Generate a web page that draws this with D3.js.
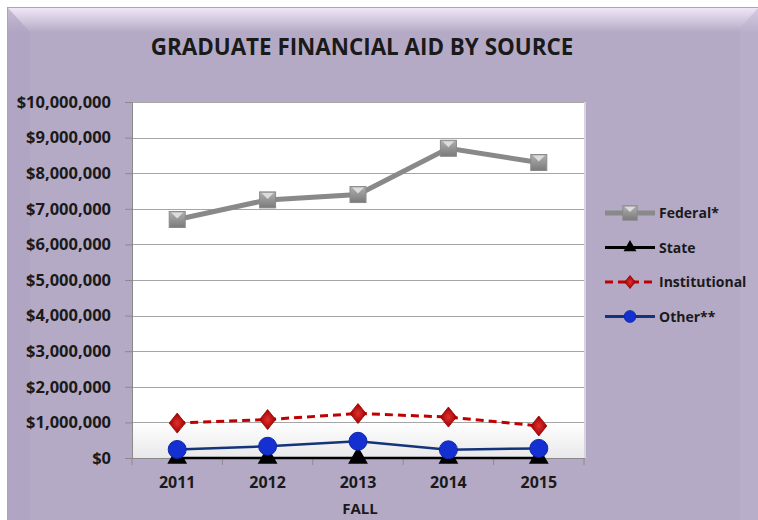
<!DOCTYPE html>
<html>
<head>
<meta charset="utf-8">
<script src="https://cdn.jsdelivr.net/npm/d3@7"></script>
<style>
  body { margin: 0; background: #fff; }
  svg text { font-family: "Open Sans", "Liberation Sans", sans-serif; font-weight: bold; fill: #1a1a1a; }
</style>
</head>
<body>
<div class="chart-container"></div>
<script>
// values
var years = ["2011", "2012", "2013", "2014", "2015"];
var federal = [6700000, 7250000, 7400000, 8700000, 8300000];
var state = [0, 0, 0, 0, 0];
var institutional = [980000, 1080000, 1250000, 1150000, 900000];
var other = [240000, 330000, 470000, 230000, 270000];
var yTicks = [0, 1000000, 2000000, 3000000, 4000000, 5000000, 6000000, 7000000, 8000000, 9000000, 10000000];
var seriesNames = ["Federal*", "State", "Institutional", "Other**"];

var W = 758, H = 520;
var margin = {top: 102, right: 174, bottom: 62, left: 132},
    width = W - margin.left - margin.right,
    height = H - margin.top - margin.bottom;

var svg = d3.select(".chart-container").append("svg")
    .attr("width", W).attr("height", H);

var defs = svg.append("defs");
var bev = defs.append("linearGradient").attr("id", "bevTop").attr("x1", 0).attr("y1", 0).attr("x2", 0).attr("y2", 1);
bev.append("stop").attr("offset", 0).attr("stop-color", "#efe6f6");
bev.append("stop").attr("offset", 1).attr("stop-color", "#b6abc7");
var plotGrad = defs.append("linearGradient").attr("id", "plotBg").attr("x1", 0).attr("y1", 0).attr("x2", 0).attr("y2", 1);
plotGrad.append("stop").attr("offset", 0.9).attr("stop-color", "#ffffff");
plotGrad.append("stop").attr("offset", 1).attr("stop-color", "#e8e8ea");
var sq = defs.append("linearGradient").attr("id", "sqGrad").attr("x1", 0).attr("y1", 0).attr("x2", 0).attr("y2", 1);
sq.append("stop").attr("offset", 0).attr("stop-color", "#b0b0b0");
sq.append("stop").attr("offset", 1).attr("stop-color", "#7a7a7a");
var dm = defs.append("radialGradient").attr("id", "dmGrad");
dm.append("stop").attr("offset", 0).attr("stop-color", "#e03030");
dm.append("stop").attr("offset", 1).attr("stop-color", "#a00000");

// chart frame
svg.append("line").attr("x1", 7).attr("x2", W).attr("y1", 7.5).attr("y2", 7.5).attr("stroke", "#a8a8a8");
svg.append("line").attr("x1", 7.5).attr("x2", 7.5).attr("y1", 7).attr("y2", H).attr("stroke", "#a8a8a8");
svg.append("rect").attr("x", 8).attr("y", 8).attr("width", W - 8).attr("height", H - 8).attr("fill", "#b5aac6");
svg.append("rect").attr("x", 8).attr("y", 8).attr("width", W - 8).attr("height", 24).attr("fill", "url(#bevTop)");
svg.append("path").attr("d", "M8,8 L30,32 L30,520 L8,520 Z").attr("fill", "#ada2bf").attr("opacity", 0.6);
svg.append("path").attr("d", "M758,8 L740,28 L740,520 L758,520 Z").attr("fill", "#bdb2cd").attr("opacity", 0.5);

svg.append("text").attr("x", 362).attr("y", 55).attr("text-anchor", "middle")
    .style("font-size", "22.4px").text("GRADUATE FINANCIAL AID BY SOURCE");

var g = svg.append("g").attr("transform", "translate(" + margin.left + "," + margin.top + ")");

var x = d3.scaleBand().domain(years).range([0, width]);
var y = d3.scaleLinear().domain([0, 10000000]).range([height, 0]);

g.append("rect").attr("width", width).attr("height", height).attr("fill", "url(#plotBg)");
g.append("line").attr("x1", width + 1).attr("x2", width + 1).attr("y1", 0).attr("y2", height)
    .attr("stroke", "#d8d3e0").attr("stroke-width", 2);

// gridlines
g.selectAll(".grid").data(yTicks.slice(1)).enter().append("line")
    .attr("x1", 0).attr("x2", width)
    .attr("y1", function (d) { return Math.round(y(d)) + 0.5; })
    .attr("y2", function (d) { return Math.round(y(d)) + 0.5; })
    .attr("stroke", "#a6a6a6");

var fmt = function (d) { return "$" + d3.format(",")(d); };
var yAxis = g.append("g").call(d3.axisLeft(y).tickValues(yTicks).tickFormat(fmt).tickSizeOuter(0).tickSize(7).tickPadding(14));
yAxis.select(".domain").attr("stroke", "#8a8a8a");
yAxis.selectAll(".tick line").attr("stroke", "#8a8a8a");
yAxis.selectAll("text").style("font-size", "16.5px").attr("fill", "#1a1a1a");

var xAxis = g.append("g").attr("transform", "translate(0," + height + ")")
    .call(d3.axisBottom(x).tickSize(0).tickPadding(19));
xAxis.select(".domain").attr("stroke", "#8a8a8a");
xAxis.selectAll("text").style("font-size", "16px").attr("fill", "#1a1a1a");
g.selectAll(".xtick").data(years.concat(["end"])).enter().append("line")
    .attr("x1", function (d, i) { return i * x.step(); })
    .attr("x2", function (d, i) { return i * x.step(); })
    .attr("y1", height).attr("y2", height + 7).attr("stroke", "#8a8a8a");

g.append("text").attr("x", 360 - margin.left).attr("y", height + 56).attr("text-anchor", "middle")
    .style("font-size", "15px").text("FALL");

var line = d3.line()
    .x(function (d, i) { return x(years[i]) + x.bandwidth() / 2; })
    .y(function (d) { return y(d); });

var styles = [
    {data: federal, color: "#898989", width: 5, dash: null, marker: "square"},
    {data: state, color: "#000000", width: 2.5, dash: null, marker: "triangle"},
    {data: institutional, color: "#c00000", width: 3, dash: "8,5", marker: "diamond"},
    {data: other, color: "#13337a", width: 2.5, dash: null, marker: "circle"}
];

function drawMarker(sel, type, s) {
    if (type == "square") {
        sel.append("rect").attr("x", -8 * s).attr("y", -8 * s).attr("width", 16 * s).attr("height", 16 * s)
            .attr("fill", "url(#sqGrad)").attr("stroke", "#8a8a8a");
        sel.append("path").attr("d", "M" + (-6 * s) + "," + (-7 * s) + "L0," + (-1 * s) + "L" + (6 * s) + "," + (-7 * s) + "Z")
            .attr("fill", "#dcdcdc");
    } else if (type == "triangle") {
        sel.append("path").attr("d", d3.symbol().type(d3.symbolTriangle).size(170 * s * s)).attr("fill", "#000");
    } else if (type == "diamond") {
        sel.append("path").attr("d", "M0," + (-10 * s) + "L" + (8 * s) + ",0L0," + (10 * s) + "L" + (-8 * s) + ",0Z")
            .attr("fill", "url(#dmGrad)").attr("stroke", "#900000").attr("stroke-width", 0.8);
    } else {
        sel.append("circle").attr("r", 9 * s).attr("fill", "#1530d0").attr("stroke", "#1028a8");
    }
}

styles.forEach(function (st) {
    g.append("path").datum(st.data).attr("d", line).attr("fill", "none")
        .attr("stroke", st.color).attr("stroke-width", st.width)
        .attr("stroke-dasharray", st.dash);
});
styles.forEach(function (st) {
    g.selectAll(null).data(st.data).enter().append("g")
        .attr("transform", function (d, i) {
            return "translate(" + (x(years[i]) + x.bandwidth() / 2) + "," + y(d) + ")";
        })
        .each(function () { drawMarker(d3.select(this), st.marker, 1); });
});

// legend
var legend = svg.append("g").attr("transform", "translate(605,213)");
var rows = legend.selectAll(".leg").data(styles).enter().append("g")
    .attr("transform", function (d, i) { return "translate(0," + (i * 34.5) + ")"; });
rows.append("line").attr("x1", 0).attr("x2", 50)
    .attr("stroke", function (d) { return d.color; })
    .attr("stroke-width", function (d) { return d.marker == "square" ? 5 : 3; })
    .attr("stroke-dasharray", function (d) { return d.dash; });
rows.append("g").attr("transform", "translate(25,0)")
    .each(function (d) { drawMarker(d3.select(this), d.marker, d.marker == "square" ? 0.9 : 0.65); });
rows.append("text").attr("x", 54).attr("y", 5).style("font-size", "14px")
    .text(function (d, i) { return seriesNames[i]; });
</script>
</body>
</html>
